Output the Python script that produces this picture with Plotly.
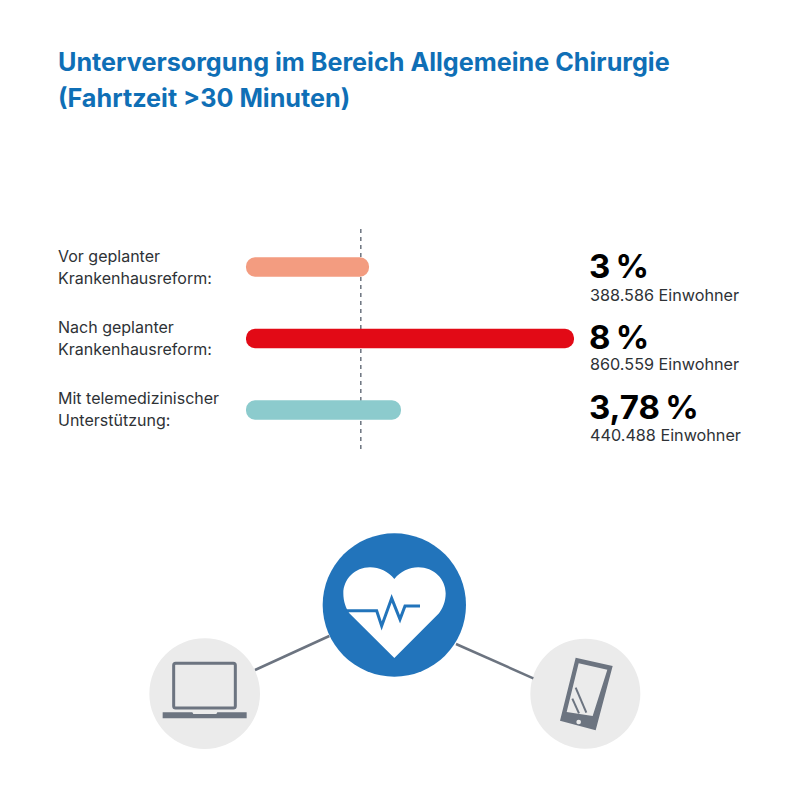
from __future__ import annotations

from typing import Dict, List

import pandas as pd
import plotly.express as px

BLUE = "#2274bb"
TITLE_COLOR = "#0f6fb6"
TEXT_COLOR = "#2e3236"
ICON_GREY = "#6c7480"
CIRCLE_GREY = "#ebebeb"
PRIMARY_FONT = "Inter"


def _circle(cx: float, cy: float, r: float, fill: str) -> Dict[str, object]:
    return dict(type="circle", xref="x2", yref="y2", x0=cx - r, x1=cx + r, y0=cy - r, y1=cy + r,
                fillcolor=fill, line_width=0, layer="below")


def _path(path: str, fill: str = "rgba(0,0,0,0)", line: str = "rgba(0,0,0,0)", width: float = 0) -> Dict[str, object]:
    return dict(type="path", xref="x2", yref="y2", path=path, fillcolor=fill, line_color=line, line_width=width)


def _text(x: int, y: float, text: str, size: float, color: str = TEXT_COLOR, bold: bool = False) -> Dict[str, object]:
    # x and y are in picture pixels, measured from the top left
    return dict(xref="paper", yref="paper", x=x / 800, y=1 - y / 800, text=f"<b>{text}</b>" if bold else text,
                showarrow=False, xanchor="left", yanchor="middle", align="left", borderpad=0,
                font=dict(family=PRIMARY_FONT, size=size, color=color))


def _icon_shapes() -> List[Dict[str, object]]:
    """Heart in the middle, laptop and phone at the sides (coordinates of the icon axes)."""
    heart = ("M 763 147 C 745 125 718 112 690 112 C 645 112 610 148 610 190 C 610 215 618 235 628 250 "
             "L 763 384 L 897 250 C 908 235 917 215 917 190 C 917 148 882 112 835 112 C 808 112 781 125 763 147 Z")
    pulse = "M 620 242 L 710 242 L 725 288 L 755 205 L 780 268 L 795 228 L 840 228"
    return [
        _path("M 345 420 L 568 318", line=ICON_GREY, width=2.5),
        _path("M 948 342 L 1180 445", line=ICON_GREY, width=2.5),
        _circle(194, 491, 166, CIRCLE_GREY),
        _circle(1336, 491, 165, CIRCLE_GREY),
        _circle(763, 225, 215, BLUE),
        _path(heart, fill="#ffffff"),
        _path(pulse, line=BLUE, width=3),
        # laptop
        _path("M 107 400 L 280 400 Q 286 400 286 406 L 286 528 Q 286 534 280 534 L 107 534 Q 101 534 101 528 "
              "L 101 406 Q 101 400 107 400 Z", line=ICON_GREY, width=3),
        _path("M 68 547 L 157 547 L 160 552 L 229 552 L 232 547 L 320 547 L 320 565 L 68 565 Z", fill=ICON_GREY),
        # phone
        _path("M 1307 383 L 1418 408 L 1367 601 L 1260 572 Z M 1316 400 L 1402 419 L 1358 558 L 1280 546 Z",
              fill=ICON_GREY),
        _circle(1316, 576, 7, CIRCLE_GREY) | dict(layer="above"),
        _path("M 1307 473 L 1339 548", line=ICON_GREY, width=2),
        _path("M 1297 506 L 1317 550", line=ICON_GREY, width=2),
    ]


df = pd.DataFrame({
    "zeile": [0, 1, 2],
    "wert": [3.0, 8.0, 3.78],
    "farbe": ["#f39c80", "#e20a16", "#8ccbcd"],
    "label": ["Vor geplanter<br>Krankenhausreform:", "Nach geplanter<br>Krankenhausreform:",
              "Mit telemedizinischer<br>Unterstützung:"],
    "anteil": ["3\u2009%", "8\u2009%", "3,78\u2009%"],
    "einwohner": ["388.586 Einwohner", "860.559 Einwohner", "440.488 Einwohner"],
})
df["start"] = 0.0  # a bar with a base is rounded at both ends

fig = px.bar(df, x="wert", y="zeile", base="start", orientation="h")
fig.update_traces(marker_color=df["farbe"], marker_cornerradius=9, marker_line_width=0, width=0.27, hoverinfo="skip")

fig.update_layout(
    width=800, height=800, margin=dict(l=0, r=0, t=0, b=0), showlegend=False,
    paper_bgcolor="#ffffff", plot_bgcolor="#ffffff",
    xaxis=dict(range=[-6, 13.512], visible=False),
    yaxis=dict(range=[7.454, -3.734], visible=False),
    xaxis2=dict(range=[-420, 1980], visible=False, overlaying="x"),
    yaxis2=dict(range=[810, -1590], visible=False, overlaying="y"),
)

shapes = [dict(type="line", xref="x", yref="y", x0=2.8, x1=2.8, y0=-0.53, y1=2.56, layer="below",
               line=dict(color=ICON_GREY, width=1.5, dash="4px,4px"))]
fig.update_layout(shapes=shapes + _icon_shapes())

annotations = [
    _text(57, 62, "Unterversorgung im Bereich Allgemeine Chirurgie", 25.2, TITLE_COLOR, True),
    _text(57, 98, "(Fahrtzeit >30 Minuten)", 25.2, TITLE_COLOR, True),
]
for i, row in df.iterrows():
    first, second = row["label"].split("<br>")
    top = 256 + 71 * i
    annotations.append(_text(57, top, first, 16))
    annotations.append(_text(57, top + 22, second, 16))
    annotations.append(_text(588, 266 + 70.5 * i, row["anteil"], 33, "#000000", True))
    annotations.append(_text(589, 294.5 + 70 * i, row["einwohner"], 16.2))
fig.update_layout(annotations=annotations)

fig.write_html("out.html", config=dict(displayModeBar=False), post_script="document.body.style.margin = '0';")
